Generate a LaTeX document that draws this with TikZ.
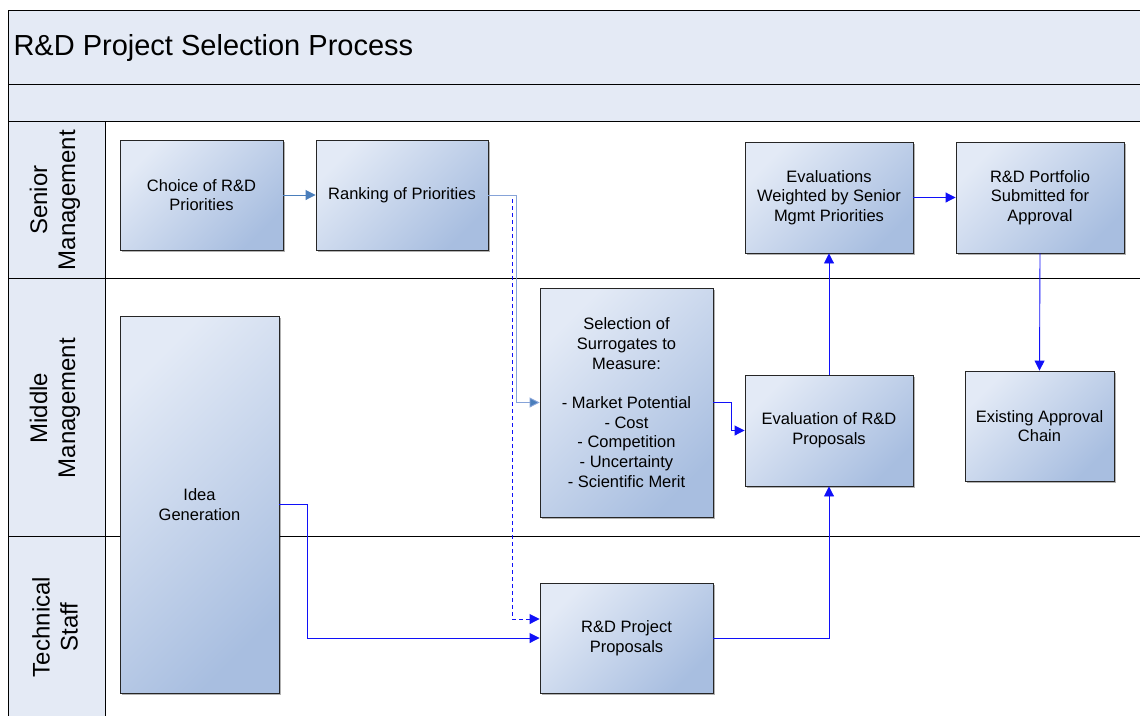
\documentclass[tikz,border=0pt]{standalone}
\usepackage{fontspec}
\setmainfont{Liberation Sans}
\usetikzlibrary{arrows.meta,shadows}
\definecolor{bandfill}{HTML}{E4EAF5}
\definecolor{boxlight}{HTML}{E3EAF6}
\definecolor{boxdark}{HTML}{A8BEE0}
\definecolor{steel}{HTML}{4A7EBB}
\definecolor{steellight}{HTML}{86A3D8}
\definecolor{flowblue}{HTML}{1010F8}
\begin{document}
\begin{tikzpicture}[x=1pt,y=-1pt,
  lane/.style={draw=black,line width=0.9pt},
  box/.style={draw=black!85,line width=0.9pt,rectangle,align=center,
    top color=boxlight,bottom color=boxdark,shading angle=45,
    drop shadow={shadow xshift=1.5pt,shadow yshift=-1.5pt,opacity=0.3,fill=black},
    font=\fontsize{16.5}{19.7}\selectfont,inner sep=2pt},
  flow/.style={draw=flowblue,line width=0.9pt,-{Triangle[length=10pt,width=10pt]}},
  steelflow/.style={draw=steel,line width=0.9pt,-{Triangle[length=10pt,width=10pt]}},
  lanelabel/.style={rotate=90,align=center,font=\fontsize{24}{28}\selectfont}]
\useasboundingbox (0,0) rectangle (1140,716);

% header bands and lane heading column
\fill[bandfill] (8,10) rectangle (1140,121);
\fill[bandfill] (8,121) rectangle (105,716);
\draw[lane] (1140,10) -- (8,10) -- (8,716);
\draw[lane] (8,84) -- (1140,84);
\draw[lane] (8,121) -- (1140,121);
\draw[lane] (8,278) -- (1140,278);
\draw[lane] (8,536) -- (1140,536);
\draw[lane] (105,121) -- (105,716);

\node[anchor=west,font=\fontsize{29}{34}\selectfont] (title) at (10,47.5) {R\&D Project Selection Process};

\node[lanelabel] (lsenior) at (55,200) {Senior\\Management};
\node[lanelabel] (lmiddle) at (55,408) {Middle\\Management};
\node[lanelabel] (ltech) at (55,627) {Technical\\Staff};

% process boxes
\node[box,minimum width=163pt,minimum height=110pt] (choice) at (201.5,195) {Choice of R\&D\\Priorities};
\node[box,minimum width=172pt,minimum height=110pt] (rank) at (402,195) {Ranking of Priorities};
\node[box,minimum width=168pt,minimum height=111pt] (evalw) at (829,197.5) {Evaluations\\Weighted by Senior\\Mgmt Priorities};
\node[box,minimum width=168pt,minimum height=111pt] (port) at (1040,197.5) {R\&D Portfolio\\Submitted for\\Approval};
\node[box,minimum width=173pt,minimum height=229pt] (sel) at (626.5,402.5) {Selection of\\Surrogates to\\Measure:\\[19.7pt]- Market Potential\\- Cost\\- Competition\\- Uncertainty\\- Scientific Merit};
\node[box,minimum width=168pt,minimum height=111pt] (evalrd) at (829,430.5) {Evaluation of R\&D\\Proposals};
\node[box,minimum width=149pt,minimum height=110pt] (exist) at (1039.5,426) {Existing Approval\\Chain};
\node[box,minimum width=159pt,minimum height=377pt] (idea) at (199.5,504.5) {Idea\\Generation};
\node[box,minimum width=173pt,minimum height=110pt] (prop) at (626.5,638) {R\&D Project\\Proposals};

% connectors
\draw[steelflow] (choice) -- (rank);
\draw[flow,dashed,dash pattern=on 4pt off 3pt] (rank.east) -- ++(24,0) |- ([yshift=19pt]prop.west);
\draw[steelflow,draw=steellight,-{Triangle[length=10pt,width=10pt,fill=steel]}] (rank.east) -- ++(28,0) |- (sel.west);
\draw[flow] (idea.east) -- ++(28,0) |- (prop.west);
\draw[flow] (sel.east) -- ++(18,0) |- (evalrd.west);
\draw[flow] (prop.east) -| (evalrd.south);
\draw[flow] (evalrd.north) -- (evalw.south);
\draw[flow] (evalw) -- (port);
\draw[flow] (port.south) -- (exist.north);
\end{tikzpicture}
\end{document}
